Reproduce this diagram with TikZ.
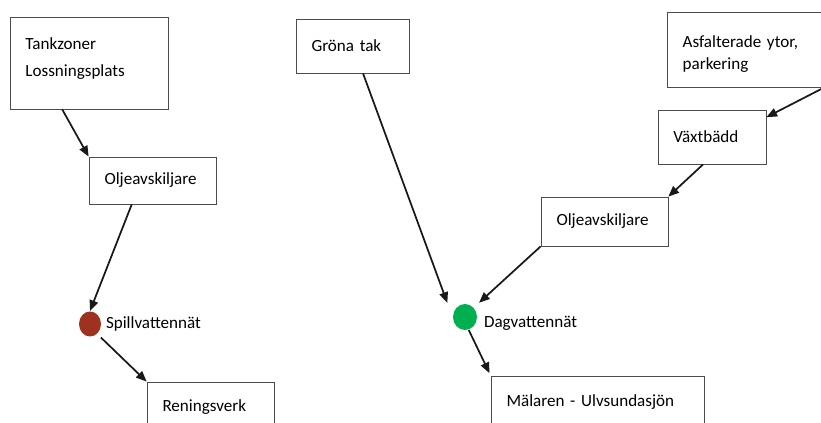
\documentclass[tikz,border=0pt]{standalone}
\usepackage{fontspec}
\setmainfont{Carlito}
\usetikzlibrary{arrows.meta,shapes.geometric,positioning}
\definecolor{spillred}{RGB}{158,50,30}
\definecolor{daggreen}{RGB}{0,176,80}
\tikzset{every picture/.style={line width=0.75pt}}
\tikzset{
  box/.style={draw=black!70, line width=0.6pt, rectangle, inner xsep=11.6pt, inner ysep=0pt, align=left, font=\fontsize{12.8}{15.5}\selectfont},
  flow/.style={-{Triangle[length=8pt,width=6.5pt]}, line width=1.3pt, draw=black!90},
  dot/.style={ellipse, inner sep=0pt},
  dotlabel/.style={inner sep=0pt, font=\fontsize{12.8}{15.5}\selectfont},
}

\begin{document}
\begin{tikzpicture}[x=0.75pt,y=0.75pt,yscale=-1,xscale=1]
    \clip (0,0) rectangle (821,423);
    % Left chain: Spillvatten
    \node[box, text width=95.3pt, minimum height=69pt] (tank) at (89,63) {Tankzoner\\[4.75pt]Lossningsplats\rule[-9pt]{0pt}{9pt}};
    \node[box, text width=72pt, minimum height=35.25pt] (olje1) at (152.5,180.5) {Oljeavskiljare};
    \node[dot, fill=spillred, minimum width=16.5pt, minimum height=18.75pt] (spill) at (90,324) {};
    \node[dotlabel, right=3pt of spill] (spilltxt) {Spillvattennät};
    \node[box, text width=72pt, minimum height=37.5pt] (ren) at (210.5,407) {Reningsverk};
    % Right chain: Dagvatten
    \node[box, text width=61.5pt, minimum height=40.5pt] (grona) at (352.5,46) {Gröna tak};
    \node[box, text width=110pt, minimum height=56.25pt] (asfalt) at (756,49.5) {\rule{0pt}{15.5pt}Asfalterade ytor,\\[1pt]parkering};
    \node[box, text width=57.8pt, minimum height=40.5pt] (vaxt) at (712,137) {Växtbädd};
    \node[box, text width=72pt, minimum height=36.75pt] (olje2) at (604.5,221.5) {Oljeavskiljare};
    \node[dot, fill=daggreen, minimum width=18pt, minimum height=19.5pt] (dag) at (465,317) {};
    \node[dotlabel, right=4.5pt of dag, yshift=-4.5pt] (dagtxt) {Dagvattennät};
    \node[box, text width=136.5pt, minimum height=39pt] (mal) at (597.5,402) {Mälaren - Ulvsundasjön};
    % Connectors
    \draw[flow] (tank.240) -- (olje1.north west);
    \draw[flow] (olje1.229) -- (spill.north);
    \draw[flow, shorten <=3.75pt] (spill.-54) -- (ren.north west);
    \draw[flow, shorten >=11.25pt] (grona.291) -- (dag.west);
    \draw[flow] (asfalt.331) -- (vaxt.20);
    \draw[flow] (vaxt.252) -- (olje2.north east);
    \draw[flow, shorten >=5.25pt] (olje2.south west) -- (dag.47);
    \draw[flow, shorten >=2pt] (dag.-74) -- (mal.north west);
\end{tikzpicture}
\end{document}
